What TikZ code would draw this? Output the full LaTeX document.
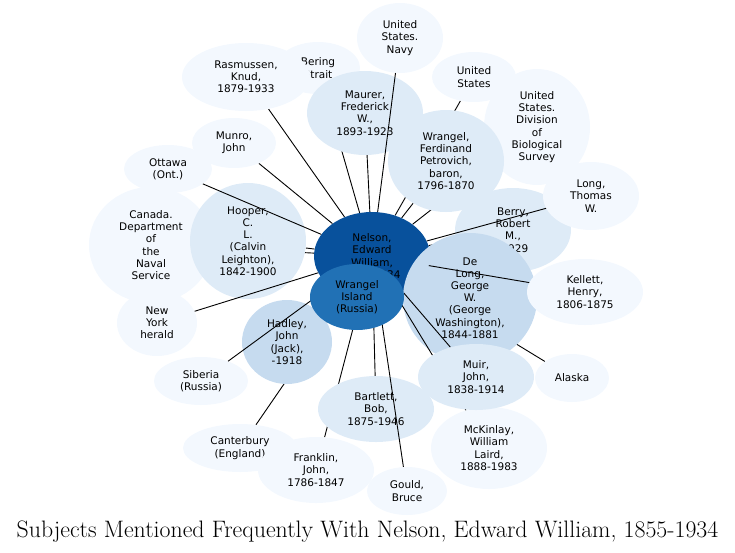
\documentclass[tikz,border=0pt]{standalone}
\usepackage{fontspec}
\newfontfamily\subjfont{DejaVu Sans}
\usetikzlibrary{shapes.geometric}
\pgfdeclarelayer{back}
\pgfdeclarelayer{mid}
\pgfdeclarelayer{top}
\pgfsetlayers{back,main,mid,top}
\definecolor{blueA}{HTML}{F3F8FE}
\definecolor{blueB}{HTML}{DEEBF7}
\definecolor{blueC}{HTML}{C6DBEF}
\definecolor{blueW}{HTML}{2171B5}
\definecolor{blueN}{HTML}{08519C}

\begin{document}
\begin{tikzpicture}[x=1pt,y=-1pt]
\tikzstyle{every node}+=[inner sep=0pt]
\tikzstyle{subj}=[ellipse,align=center,font=\subjfont\fontsize{10.5}{12.2}\selectfont]
\tikzstyle{link}=[black,line width=0.9pt]
\useasboundingbox (0,0) rectangle (735,552);
\node [subj,fill=blueA,minimum width=84,minimum height=52] (bering) at (318,68) {Bering\\Strait};
\node [subj,fill=blueA,minimum width=128,minimum height=68] (rasmussen) at (246,77) {Rasmussen,\\Knud,\\1879-1933};
\node [subj,fill=blueA,minimum width=86,minimum height=70] (navy) at (400,38) {United\\States.\\Navy};
\node [subj,fill=blueB,minimum width=116,minimum height=84] (maurer) at (365,113) {Maurer,\\Frederick\\W.,\\1893-1923};
\node [subj,fill=blueA,minimum width=84,minimum height=50] (usa) at (474,77) {United\\States};
\node [subj,fill=blueA,minimum width=106,minimum height=116] (survey) at (537,127) {United\\States.\\Division\\of\\Biological\\Survey};
\node [subj,fill=blueB,minimum width=116,minimum height=102] (wrangelf) at (446,161) {Wrangel,\\Ferdinand\\Petrovich,\\baron,\\1796-1870};
\node [subj,fill=blueB,minimum width=116,minimum height=84] (berry) at (513,230) {Berry,\\Robert\\M.,\\-1929};
\node [subj,fill=blueA,minimum width=96,minimum height=68] (long) at (591,196) {Long,\\Thomas\\W.};
\node [subj,fill=blueA,minimum width=84,minimum height=50] (munro) at (234,143) {Munro,\\John};
\node [subj,fill=blueA,minimum width=88,minimum height=48] (ottawa) at (168,169) {Ottawa\\(Ont.)};
\node [subj,fill=blueA,minimum width=124,minimum height=116] (canada) at (151,245) {Canada.\\Department\\of\\the\\Naval\\Service};
\node [subj,fill=blueB,minimum width=116,minimum height=116] (hooper) at (248,241) {Hooper,\\C.\\L.\\(Calvin\\Leighton),\\1842-1900};
\node [subj,fill=blueA,minimum width=80,minimum height=66] (herald) at (157,323) {New\\York\\herald};
\node [subj,fill=blueA,minimum width=94,minimum height=48] (siberia) at (201,381) {Siberia\\(Russia)};
\node [subj,fill=blueC,minimum width=90,minimum height=84] (hadley) at (287,342) {Hadley,\\John\\(Jack),\\-1918};
\node [subj,fill=blueA,minimum width=114,minimum height=48] (canterbury) at (240,448) {Canterbury\\(England)};
\node [subj,fill=blueA,minimum width=116,minimum height=66] (franklin) at (316,470) {Franklin,\\John,\\1786-1847};
\node [subj,fill=blueB,minimum width=116,minimum height=66] (bartlett) at (376,409) {Bartlett,\\Bob,\\1875-1946};
\node [subj,fill=blueA,minimum width=80,minimum height=48] (gould) at (407,491) {Gould,\\Bruce};
\node [subj,fill=blueA,minimum width=116,minimum height=82] (mckinlay) at (489,448) {McKinlay,\\William\\Laird,\\1888-1983};
\node [subj,fill=blueN,minimum width=116,minimum height=88] (nelson) at (372,256) {Nelson,\\Edward\\William,\\1855-1934};
\node [subj,fill=blueC,minimum width=134,minimum height=130] (delong) at (470,298) {De\\Long,\\George\\W.\\(George\\Washington),\\1844-1881};
\node [subj,fill=blueA,minimum width=116,minimum height=66] (kellett) at (585,292) {Kellett,\\Henry,\\1806-1875};
\node [subj,fill=blueA,minimum width=74,minimum height=48] (alaska) at (572,378) {Alaska};
\begin{pgfonlayer}{top}
\node [subj,fill=blueW,minimum width=94,minimum height=66] (wrangeli) at (357,297) {Wrangel\\Island\\(Russia)};
\node [subj,fill=blueB,minimum width=116,minimum height=66] (muir) at (476,377) {Muir,\\John,\\1838-1914};
\end{pgfonlayer}
\begin{pgfonlayer}{back}
\draw [link] (nelson) -- (bering);
\draw [link] (nelson) -- (rasmussen);
\draw [link] (nelson) -- (maurer);
\draw [link] (nelson) -- (munro);
\draw [link] (nelson) -- (usa);
\draw [link] (nelson) -- (survey);
\draw [link] (nelson) -- (wrangelf);
\draw [link] (nelson) -- (berry);
\draw [link] (nelson) -- (canada);
\draw [link] (nelson) -- (hooper);
\draw [link] (nelson) -- (hadley);
\draw [link] (nelson) -- (canterbury);
\draw [link] (nelson) -- (franklin);
\draw [link] (nelson) -- (bartlett);
\draw [link] (nelson) -- (delong);
\draw [link] (nelson) -- (alaska);
\draw [link] (nelson) -- (wrangeli);
\end{pgfonlayer}
\begin{pgfonlayer}{mid}
\draw [link] (nelson) -- (navy);
\draw [link] (nelson) -- (ottawa);
\draw [link] (nelson) -- (herald);
\draw [link] (nelson) -- (siberia);
\draw [link] (nelson) -- (gould);
\draw [link] (nelson) -- (mckinlay);
\draw [link] (nelson) -- (muir);
\draw [link] (nelson) -- (kellett);
\draw [link] (nelson) -- (long);
\end{pgfonlayer}
\node [font=\fontsize{23.8}{26}\selectfont,anchor=base] (title) at (367.5,537) {Subjects Mentioned Frequently With Nelson, Edward William, 1855-1934};
\end{tikzpicture}
\end{document}
